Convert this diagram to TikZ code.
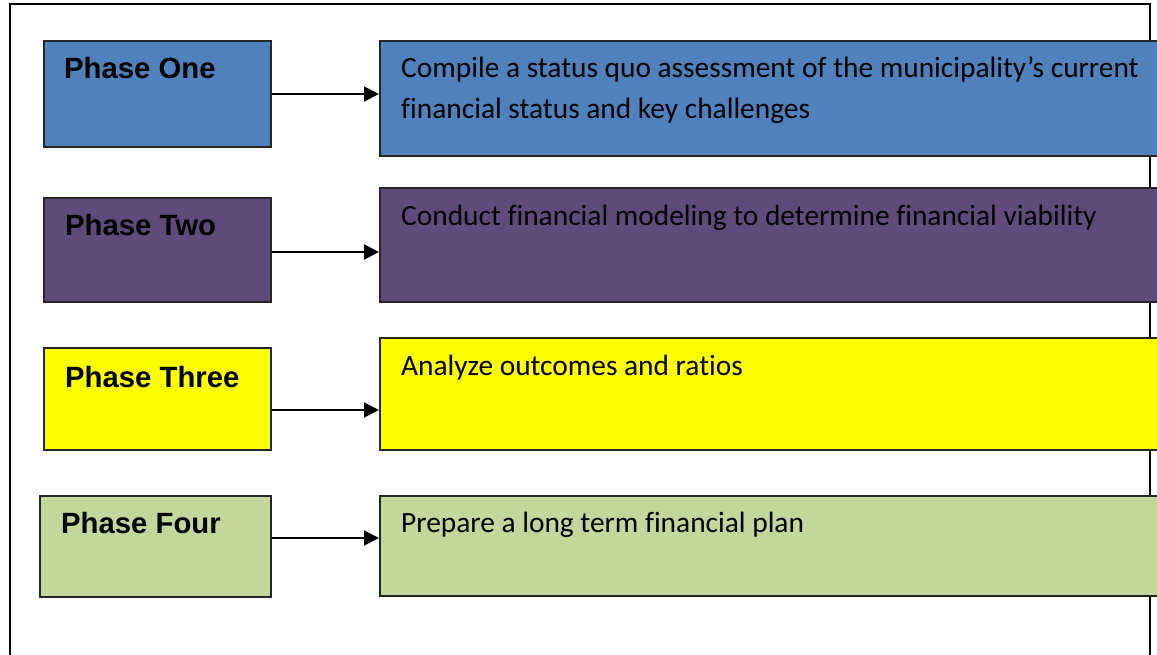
\documentclass[tikz,border=0pt]{standalone}
\usepackage{fontspec}
\setmainfont[Ligatures=NoCommon]{Carlito}
\newfontfamily\phasefont{Liberation Sans}
\usetikzlibrary{arrows.meta}
\definecolor{pblue}{HTML}{4F81BD}
\definecolor{ppurple}{HTML}{604A7B}
\definecolor{pyellow}{HTML}{FFFF00}
\definecolor{pgreen}{HTML}{C3D69B}
\tikzset{
  phasebox/.style={draw=black!85, line width=2pt, rectangle, anchor=north west, inner sep=0pt},
  descbox/.style={draw=black!85, line width=2pt, rectangle, anchor=north west, inner sep=0pt},
  phaselabel/.style={anchor=base west, inner sep=0pt, font=\phasefont\bfseries\fontsize{29.3}{34}\selectfont},
  desclabel/.style={anchor=base west, inner sep=0pt, font=\fontsize{29.4}{41}\selectfont},
  conn/.style={line width=2pt, -{Triangle[length=15pt,width=15pt]}},
  frame/.style={line width=2.4pt}
}
\begin{document}
\begin{tikzpicture}[x=1pt,y=-1pt]
\useasboundingbox (0,0) rectangle (1157,654);
\begin{scope}
\clip (0,0) rectangle (1157,654);
% outer frame
\draw[frame] (10,680) -- (10,4) -- (1150,4) -- (1150,680);
% phase boxes
\node[phasebox, fill=pblue, minimum width=227pt, minimum height=106pt] (p1) at (43,40) {};
\node[phasebox, fill=ppurple, minimum width=227pt, minimum height=104pt] (p2) at (43,197) {};
\node[phasebox, fill=pyellow, minimum width=227pt, minimum height=102pt] (p3) at (43,347) {};
\node[phasebox, fill=pgreen, minimum width=231pt, minimum height=101pt] (p4) at (39,495) {};
% description boxes
\node[descbox, fill=pblue, minimum width=800pt, minimum height=115pt] (d1) at (379,40) {};
\node[descbox, fill=ppurple, minimum width=800pt, minimum height=114pt] (d2) at (379,187) {};
\node[descbox, fill=pyellow, minimum width=800pt, minimum height=112pt] (d3) at (379,337) {};
\node[descbox, fill=pgreen, minimum width=800pt, minimum height=100pt] (d4) at (379,495) {};
% labels
\node[phaselabel] (l1) at (64,78) {Phase One};
\node[phaselabel] (l2) at (65,235) {Phase Two};
\node[phaselabel] (l3) at (65,387) {Phase Three};
\node[phaselabel] (l4) at (61,533) {Phase Four};
\node[desclabel] (t1a) at (401,77) {Compile a status quo assessment of the municipality’s current};
\node[desclabel] (t1b) at (401,118) {financial status and key challenges};
\node[desclabel] (t2) at (401,225) {Conduct financial modeling to determine financial viability};
\node[desclabel] (t3) at (401,375) {Analyze outcomes and ratios};
\node[desclabel] (t4) at (401,532) {Prepare a long term financial plan};
% arrow levels
\coordinate (a1) at (0,94);
\coordinate (a2) at (0,252);
\coordinate (a3) at (0,410);
\coordinate (a4) at (0,538);
\draw[conn] (p1.east |- a1) -- (d1.west |- a1);
\draw[conn] (p2.east |- a2) -- (d2.west |- a2);
\draw[conn] (p3.east |- a3) -- (d3.west |- a3);
\draw[conn] (p4.east |- a4) -- (d4.west |- a4);
\end{scope}
\end{tikzpicture}
\end{document}
